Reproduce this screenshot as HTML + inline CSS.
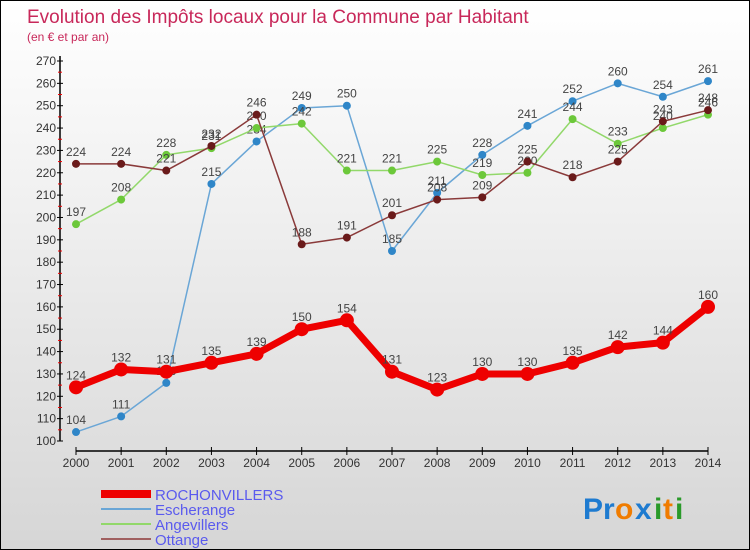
<!DOCTYPE html>
<html><head><meta charset="utf-8"><style>
body{margin:0;}
#wrap{width:750px;height:550px;position:relative;overflow:hidden;box-sizing:border-box;border:1px solid #000;background:linear-gradient(#fff 0%,#f3f3f3 30%,#d6d6d6 100%);font-family:"Liberation Sans",sans-serif;}
svg text{font-family:"Liberation Sans",sans-serif;}
</style></head><body>
<div id="wrap">
<svg id="chart" width="750" height="550">
<text x="26" y="22" font-size="19" fill="#c8285a">Evolution des Impôts locaux pour la Commune par Habitant</text>
<text x="26" y="40" font-size="12" fill="#c8285a">(en € et par an)</text>
<g id="axes"></g><g id="series"></g><g id="legend"></g>
<g font-size="30" font-weight="bold">
<text x="582" y="518" fill="#1e7bd0">P</text><text x="602" y="518" fill="#1e7bd0">r</text><text x="614" y="518" fill="#f07c00">o</text><text x="634" y="518" fill="#1e7bd0">x</text><text x="653" y="518" fill="#2a9a2a">i</text><text x="662" y="518" fill="#f07c00">t</text><text x="674" y="518" fill="#2a9a2a">i</text>
</g>
</svg></div>
<script>
const years=[2000,2001,2002,2003,2004,2005,2006,2007,2008,2009,2010,2011,2012,2013,2014];
const yTicks=[100,110,120,130,140,150,160,170,180,190,200,210,220,230,240,250,260,270];
const rochonvillers=[124,132,131,135,139,150,154,131,123,130,130,135,142,144,160];
const escherange=[104,111,126,215,234,249,250,185,211,228,241,252,260,254,261];
const angevillers=[197,208,228,231,240,242,221,221,225,219,220,244,233,240,246];
const ottange=[224,224,221,232,246,188,191,201,208,209,225,218,225,243,248];
const NS="http://www.w3.org/2000/svg";
const X=i=>75+i*(632/14);
const Y=v=>440-(v-100)*(380/170);
function mk(t,a,p){const e=document.createElementNS(NS,t);for(const k in a)e.setAttribute(k,a[k]);p.appendChild(e);return e;}
const ax=document.getElementById('axes');
let e=mk('line',{x1:59,y1:55,x2:59,y2:440,stroke:'#000','stroke-width':1.5},ax);


e=mk('line',{x1:75,y1:450,x2:707,y2:450,stroke:'#000','stroke-width':1.5},ax);


yTicks.forEach(v=>{
 mk('line',{x1:56,y1:Y(v),x2:62,y2:Y(v),stroke:'#000'},ax);
 if(v<270)mk('line',{x1:57,y1:Y(v+5),x2:61,y2:Y(v+5),stroke:'#e00'},ax);
 const t=mk('text',{x:55,y:Y(v)+4,'font-size':12,fill:'#333','text-anchor':'end'},ax);t.textContent=v;
 
 
});
years.forEach((yr,i)=>{
 mk('line',{x1:X(i),y1:446,x2:X(i),y2:454,stroke:'#000'},ax);
 const t=mk('text',{x:X(i),y:466,'font-size':12,fill:'#333','text-anchor':'middle'},ax);t.textContent=yr;
 
 
});
const sg=document.getElementById('series');
function series(name,data,color,w,r,dot){
 const g=mk('g',{},sg);
 
 
 mk('polyline',{points:data.map((v,i)=>X(i)+','+Y(v)).join(' '),fill:'none',stroke:color,'stroke-width':w,'stroke-linejoin':'round'},g);
 data.forEach((v,i)=>{
  const c=mk('circle',{cx:X(i),cy:Y(v),r:r,fill:dot},g);
  
  
  const t=mk('text',{x:X(i),y:Y(v)-8,'font-size':12,fill:'#444','text-anchor':'middle'},g);t.textContent=v;
  
  
 });
}
series('escherange',escherange,'#6aa6d6',1.5,4,'#2f86c8');
series('angevillers',angevillers,'#92d86a',1.5,4,'#6cc83a');
series('ottange',ottange,'#8a3a3a',1.5,4,'#6a1a1a');
series('rochonvillers',rochonvillers,'#ee0000',7,7,'#ee0000');
const lg=document.getElementById('legend');
const leg=[['ROCHONVILLERS','#ee0000',8],['Escherange','#6aa6d6',2],['Angevillers','#92d86a',2],['Ottange','#a06060',2]];
leg.forEach((l,i)=>{
 const y=493+i*15;
 const g=mk('g',{},lg);
 
 
 mk('line',{x1:100,y1:y,x2:150,y2:y,stroke:l[1],'stroke-width':l[2]},g);
 const t=mk('text',{x:154,y:y+6,'font-size':15,fill:'#5a5aee'},g);t.textContent=l[0];
});
</script>
</body></html>
